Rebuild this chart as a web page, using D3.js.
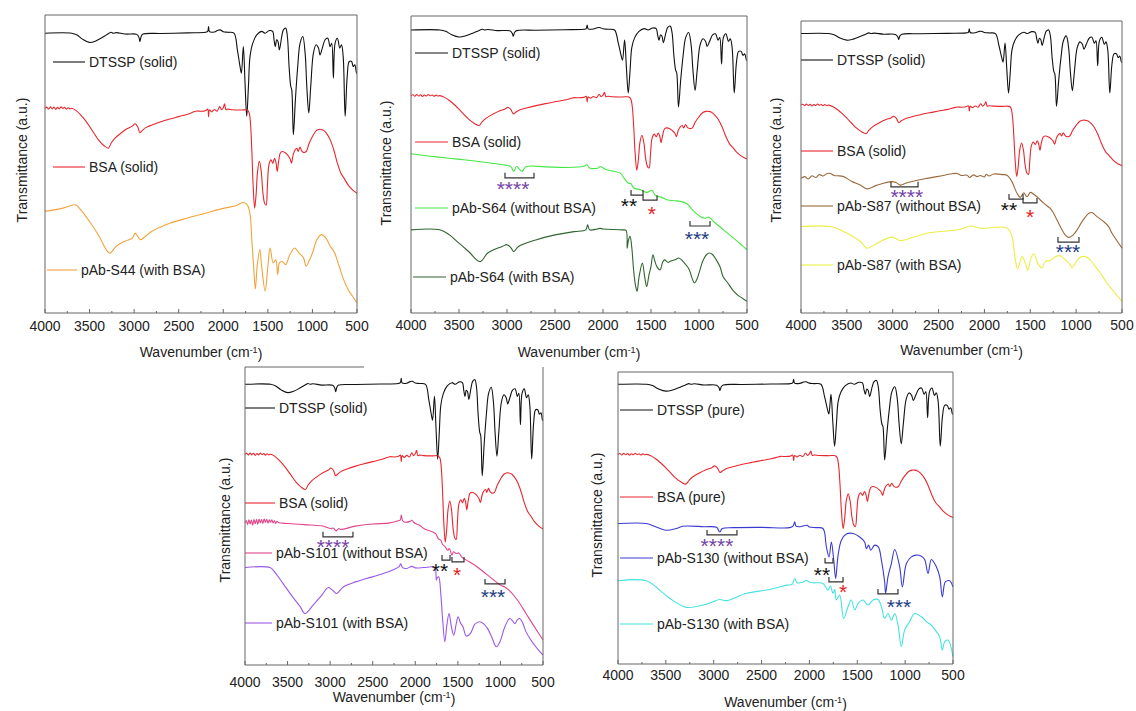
<!DOCTYPE html>
<html>
<head>
<meta charset="utf-8">
<script src="https://cdn.jsdelivr.net/npm/d3@7"></script>
<style>
  body { margin: 0; background: #fff; }
  text { font-family: "Liberation Sans", Arial, sans-serif; fill: #222; }
</style>
</head>
<body>
<div id="chart"></div>
<script>
// spectra: [wavenumber, relative transmittance], 0 = value at 4000 cm-1
const dtssp = [[4000,0],[3700,0],[3640,-0.6],[3580,-2],[3500,-3.1],[3430,-2.6],[3350,-1.3],[3290,-0.2],[3260,0.3],[3235,0],[3200,0.2],[3100,-0.3],[2970,-0.4],[2945,-1.5],[2935,-2.8],[2920,-1],[2900,-0.3],[2700,-0.1],[2400,0.1],[2200,0.3],[2175,0.6],[2165,2.2],[2155,0.5],[2100,0.4],[2060,1.0],[2035,1.1],[2000,0.5],[1950,0.3],[1880,0],[1842,-5.6],[1812,-11.2],[1797,-13.4],[1775,-4.5],[1756,-16.8],[1737,-27.9],[1718,-17.9],[1700,-7.8],[1670,-3.4],[1625,-0.6],[1569,0.6],[1532,0],[1483,0.9],[1446,0.6],[1431,-2.2],[1416,-4.5],[1401,-2.2],[1386,-2.8],[1371,-5.6],[1344,-1.1],[1326,1.1],[1300,1.7],[1281,-1.1],[1262,-11.2],[1243,-17.9],[1232,-19],[1214,-34.1],[1191,-22.3],[1165,-11.2],[1139,-3.4],[1108,-1.1],[1082,-6.7],[1063,-17.9],[1041,-26.8],[1019,-17.9],[989,-6.7],[959,-3.9],[932,-5],[915,-7.3],[889,-5],[858,-2.2],[828,-1.7],[802,-4.5],[784,-3.4],[765,-15.1],[746,-3.4],[720,-1.7],[693,-5],[674,-3.9],[655,-7.8],[633,-27.9],[610,-14.5],[587,-9.5],[561,-9.5],[542,-11.2],[524,-10.6],[505,-13.4],[500,-13.4]];
const bsa = [[4000,0],[3980,0.4],[3960,-0.3],[3940,0.5],[3920,-0.2],[3900,0.4],[3880,-0.4],[3860,0.3],[3840,-0.2],[3820,0.5],[3800,-0.1],[3780,0.3],[3760,-0.3],[3740,0.2],[3720,-0.2],[3700,0],[3650,-0.8],[3600,-2.2],[3550,-4],[3500,-6.1],[3450,-8.4],[3400,-10.6],[3340,-12.5],[3290,-13.4],[3260,-11.8],[3220,-10.2],[3150,-8.4],[3080,-6.9],[3020,-6],[2990,-5.2],[2960,-6.2],[2935,-8.2],[2910,-7.5],[2870,-6.5],[2800,-5.6],[2700,-4.5],[2600,-3.6],[2500,-2.8],[2400,-2],[2330,-1.2],[2300,-0.9],[2250,-1],[2200,-0.8],[2175,-0.3],[2165,-2.8],[2155,-0.5],[2130,-1.2],[2100,-0.4],[2070,-1],[2040,0.6],[2020,-0.5],[2000,0.2],[1985,1.5],[1970,-0.5],[1950,-0.3],[1900,-0.5],[1800,-0.6],[1730,-0.6],[1710,-1.5],[1695,-5],[1680,-14],[1665,-26],[1648,-33.5],[1632,-29],[1615,-21],[1595,-17.8],[1575,-21],[1555,-28.5],[1535,-32],[1520,-32.5],[1505,-26],[1488,-19],[1465,-17.3],[1445,-18.5],[1425,-16.8],[1410,-18],[1395,-21.2],[1380,-18],[1360,-15],[1340,-14.5],[1300,-15],[1270,-16],[1250,-17],[1235,-18.4],[1215,-15.5],[1195,-14],[1175,-13.4],[1160,-14.5],[1140,-13],[1120,-14.3],[1100,-14.8],[1070,-14.5],[1040,-12],[1000,-9.5],[960,-7.6],[930,-7.1],[900,-7.1],[870,-7.5],[840,-8.5],[800,-10.6],[760,-14],[720,-18.4],[680,-21.8],[640,-23.7],[600,-25.7],[550,-27.4],[500,-28.5]];
const s44 = [[4000,0],[3800,1.1],[3660,2.2],[3600,0.6],[3500,-3.4],[3400,-8],[3300,-13.4],[3270,-14],[3200,-11.7],[3100,-10],[3020,-9],[2990,-7.3],[2960,-8.4],[2930,-9.5],[2880,-8.5],[2800,-6.7],[2600,-4],[2400,-2.2],[2200,-0.6],[2000,1.0],[1850,2.0],[1775,3.0],[1730,2.2],[1700,-1],[1680,-9.5],[1660,-18.4],[1640,-26],[1620,-18.4],[1590,-12.8],[1570,-18.4],[1530,-26.8],[1500,-18.4],[1475,-12.3],[1440,-17.3],[1410,-16.2],[1390,-21.2],[1370,-17.3],[1340,-16.8],[1300,-17.9],[1260,-15],[1200,-12.3],[1150,-14],[1100,-15.6],[1070,-18.4],[1040,-16.8],[1000,-14],[950,-9.5],[900,-7.8],[850,-8.9],[800,-11.7],[780,-12.5],[750,-14],[700,-18.4],[650,-22.9],[600,-26.2],[550,-28.5],[500,-30.7]];
const s64wo = [[4000,0],[3800,-0.8],[3600,-1.5],[3450,-2],[3175,-3.1],[3040,-3.7],[2960,-4.3],[2930,-5.9],[2900,-4.3],[2845,-5.9],[2800,-4.3],[2600,-4.4],[2375,-4.6],[2200,-4.2],[2167,-3.7],[2140,-4.8],[2050,-4.8],[2030,-4.3],[1960,-5.4],[1890,-5.9],[1820,-6.5],[1770,-8.7],[1733,-9.9],[1710,-10],[1680,-11.5],[1611,-12.1],[1542,-13],[1490,-12.3],[1460,-13.8],[1438,-14.3],[1400,-14.5],[1333,-15.5],[1260,-15.8],[1195,-16],[1126,-16.8],[1056,-19.3],[987,-21.1],[935,-21.7],[900,-21.3],[848,-22.8],[744,-25.6],[640,-28.4],[500,-32.3]];
const s64w = [[4000,0],[3700,0],[3600,-1.7],[3500,-4.5],[3400,-7.3],[3280,-10.7],[3200,-7.8],[3050,-5.6],[3000,-5],[2960,-6],[2930,-7.3],[2880,-5.6],[2700,-3.4],[2500,-1.7],[2300,-0.6],[2180,0],[2160,1.7],[2140,0],[2060,0.3],[2030,0.5],[2000,0.3],[1800,0],[1760,-0.2],[1748,-6.2],[1735,-3.5],[1718,-2.2],[1700,-6],[1680,-14],[1660,-19],[1645,-20.7],[1625,-16],[1590,-11.2],[1565,-16],[1545,-19.1],[1520,-15],[1500,-12.3],[1480,-8.4],[1460,-10.5],[1440,-12.3],[1405,-13.5],[1380,-11],[1360,-10.1],[1320,-11],[1300,-10.6],[1250,-10.1],[1210,-9.5],[1170,-10.5],[1130,-12],[1100,-13.5],[1070,-16.5],[1048,-17.9],[1020,-16.5],[1000,-14.6],[960,-10.5],[920,-8.3],[890,-7.8],[860,-8.3],[820,-10.1],[780,-12.5],[750,-15.7],[700,-17.9],[650,-20.2],[600,-21.9],[550,-23],[500,-24.1]];
const s87wo = [[4000,0],[3960,0.6],[3920,-0.2],[3880,0.9],[3840,0.3],[3800,1.3],[3760,0.8],[3720,1.6],[3680,1.7],[3640,1.0],[3600,0.9],[3535,0.6],[3450,-1],[3353,-2.3],[3280,-3.6],[3171,-2.3],[3008,-1.1],[2960,-1.5],[2917,-2.3],[2844,-1.5],[2626,0],[2450,1.0],[2372,1.5],[2299,1.7],[2250,1.0],[2190,1.1],[2160,0.3],[2120,1.2],[2080,0.6],[2045,1.0],[2000,0.5],[1980,1.4],[1950,0.8],[1899,1.5],[1800,1.3],[1754,1.1],[1700,-1.1],[1645,-5.1],[1608,-6.5],[1572,-4.9],[1536,-6.3],[1499,-4.8],[1460,-5.5],[1427,-6.3],[1354,-8.5],[1282,-10.3],[1245,-12],[1173,-16.5],[1118,-19.4],[1082,-20.2],[1045,-19.7],[991,-17.7],[936,-14.8],[864,-12],[827,-11.7],[773,-13.1],[700,-14.8],[646,-16.5],[609,-18.8],[573,-20.5],[500,-23.9]];
const s87w = [[4000,0],[3680,0],[3535,-1.7],[3353,-5.1],[3280,-7.4],[3171,-5.7],[3008,-3.6],[2917,-4.8],[2772,-3.6],[2626,-2.3],[2263,-0.9],[2154,0.2],[2045,-0.6],[1754,-0.5],[1700,-3.4],[1663,-11.4],[1637,-14.6],[1590,-10.3],[1554,-12.5],[1528,-15],[1492,-10.8],[1463,-9.3],[1409,-13.1],[1372,-14.2],[1336,-12],[1282,-11.6],[1227,-10.3],[1173,-10],[1118,-11.4],[1064,-13.1],[1045,-14.2],[1009,-12.5],[955,-10.5],[900,-10.3],[846,-11.4],[791,-13.7],[737,-15.9],[664,-19.4],[591,-22.2],[500,-25.6]];
const s101wo = [[4000,0],[3985,0.8],[3970,-0.6],[3955,1.0],[3940,-0.4],[3925,0.9],[3910,-0.8],[3895,1.1],[3880,-0.3],[3865,1.2],[3850,-0.5],[3835,1.3],[3820,0],[3805,1.1],[3790,-0.2],[3775,1.4],[3760,0.1],[3745,1.2],[3730,-0.1],[3715,1.0],[3700,0.2],[3685,1.0],[3670,0],[3655,0.8],[3640,-0.2],[3625,0.5],[3600,0],[3500,-0.2],[3300,-0.6],[3100,-1],[3000,-1.9],[2960,-1.8],[2930,-2.7],[2900,-1.9],[2880,-2.2],[2700,-1.1],[2500,-0.4],[2300,0],[2200,0.7],[2175,1.0],[2165,2.6],[2150,0.8],[2130,0.3],[2060,0.5],[2040,0.9],[2020,0.2],[2000,-0.2],[1950,-0.8],[1900,-1.9],[1850,-2.5],[1800,-3],[1760,-3.6],[1730,-5.3],[1700,-5.8],[1680,-7.2],[1650,-8],[1620,-9.2],[1600,-8.6],[1570,-10.8],[1550,-9.7],[1520,-10.3],[1490,-10.1],[1450,-11.6],[1400,-12.5],[1300,-14.2],[1200,-16.4],[1100,-18.7],[1000,-20.9],[950,-21.5],[900,-22.6],[800,-25.9],[700,-30.4],[600,-34.9],[500,-39.3]];
const s101w = [[4000,0],[3707,0],[3650,-1.5],[3550,-5.5],[3450,-9.5],[3350,-13.2],[3296,-15.4],[3200,-12.6],[3100,-9.3],[3022,-6.7],[2964,-7.8],[2924,-8.7],[2846,-6.5],[2700,-4.8],[2572,-3.7],[2377,-2],[2260,-0.7],[2190,0.3],[2170,1.3],[2150,0],[2100,-0.3],[2040,0.4],[2000,-0.1],[1900,0],[1790,0.2],[1765,-0.3],[1752,-4.2],[1740,-3.3],[1725,-3.1],[1700,-9],[1680,-17],[1653,-24.9],[1630,-19.5],[1603,-15.4],[1575,-20],[1548,-22.7],[1520,-19],[1497,-16.5],[1470,-18.5],[1440,-19.9],[1400,-23],[1350,-22],[1300,-19],[1243,-18.2],[1200,-18.8],[1150,-20.5],[1100,-23.5],[1047,-26.6],[1000,-24.5],[950,-20],[891,-17.1],[860,-17.8],[832,-18.8],[800,-17.5],[773,-17.1],[740,-18.5],[700,-21.5],[650,-24],[600,-26],[550,-27.8],[500,-29.4]];
const s130wo = [[4000,0],[3704,0],[3600,-1.2],[3495,-2.3],[3400,-1.8],[3321,-0.9],[3100,-1.1],[2970,-1.3],[2938,-2.9],[2910,-1.7],[2800,-1.4],[2500,-1.3],[2206,-1.4],[2170,-0.8],[2154,0.6],[2140,-0.9],[2100,-1.1],[2025,-0.6],[2000,-1.2],[1928,-1.4],[1858,-1.7],[1823,-8],[1795,-11.4],[1771,-6.3],[1746,-12.5],[1726,-18.8],[1701,-11],[1666,-5.7],[1614,-3.6],[1544,-3.4],[1475,-4.6],[1423,-6.3],[1405,-8.6],[1381,-7.4],[1360,-9.1],[1318,-7.4],[1280,-8],[1248,-12.5],[1214,-20],[1204,-23.9],[1179,-18.2],[1144,-13.7],[1109,-8.9],[1057,-14.8],[1029,-21.7],[987,-13.7],[935,-11.4],[883,-10.8],[830,-11.2],[796,-12.3],[761,-17.1],[726,-12.3],[674,-14.8],[639,-18.2],[611,-25.1],[580,-20],[535,-19.6],[500,-21.7]];
const s130w = [[4000,0],[3704,0],[3565,-3.2],[3460,-6],[3286,-9.1],[3112,-8.3],[3007,-7.2],[2938,-6.4],[2868,-6.8],[2659,-4.3],[2415,-3],[2241,-1.5],[2180,-1.2],[2154,0.8],[2130,-0.7],[2102,-0.7],[2060,-0.3],[2032,0.2],[2000,-0.4],[1962,-0.7],[1858,-0.9],[1806,-3.2],[1781,-1.8],[1754,-4.3],[1736,-3],[1719,-6.6],[1684,-4.9],[1642,-12.9],[1597,-8.9],[1562,-6.6],[1527,-10],[1492,-7.8],[1440,-6.6],[1388,-8.3],[1336,-6.6],[1283,-6.4],[1248,-8.9],[1214,-12.9],[1179,-11.2],[1144,-13.5],[1109,-11.2],[1074,-15.2],[1040,-22.6],[1005,-16.9],[953,-14],[900,-11.2],[830,-12.3],[778,-14],[726,-15.2],[674,-17.4],[639,-19.2],[611,-23.7],[587,-20.9],[552,-20.3],[500,-26]];

// traces per panel, with stacking offset and scale (a.u.)
const panelSpectra = [
    [dtssp, bsa, s44],
    [dtssp, bsa, s64wo, s64w],
    [dtssp, bsa, s87wo, s87w],
    [dtssp, bsa, s101wo, s101w],
    [dtssp, bsa, s130wo, s130w]
];
const panelLabels = [
    ["DTSSP (solid)", "BSA (solid)", "pAb-S44 (with BSA)"],
    ["DTSSP (solid)", "BSA (solid)", "pAb-S64 (without BSA)", "pAb-S64 (with BSA)"],
    ["DTSSP (solid)", "BSA (solid)", "pAb-S87 (without BSA)", "pAb-S87 (with BSA)"],
    ["DTSSP (solid)", "BSA (solid)", "pAb-S101 (without BSA)", "pAb-S101 (with BSA)"],
    ["DTSSP (pure)", "BSA (pure)", "pAb-S130 (without BSA)", "pAb-S130 (with BSA)"]
];
const panelOffsets = [
    [93.9, 68.7, 34.1],
    [95.3, 73.2, 53.6, 28.0],
    [95.7, 71.2, 46.1, 29.6],
    [94.2, 70.7, 47.7, 32.7],
    [95.8, 71.8, 48.1, 28.5]
];
const panelScales = [
    [1, 1, 1],
    [0.76, 0.75, 1, 1],
    [0.73, 0.73, 1, 1],
    [0.9, 0.88, 1, 1],
    [0.76, 0.76, 1, 1]
];

// annotations: bracket ranges (cm-1), bracket level, star positions
const starMarks = ["****", "**", "*", "***"];
const bracketRanges = [
    [],
    [[3021,2719],[1708,1583],[1583,1437],[1094,885]],
    [[3019,2724],[1732,1579],[1579,1427],[1198,969]],
    [[3084,2732],[1686,1592],[1569,1428],[1181,946]],
    [[3070,2757],[1837,1754],[1796,1649],[1284,1075]]
];
const bracketLevels = [[], [45.5,39.7,38,29.3], [43.2,39,37.7,24.3], [43,35.2,34.6,27.2], [44.2,34.6,28.1,24]];
const starPositions = [
    [],
    [[2937,43.1],[1729,37.4],[1490,34.7],[1021,26.3]],
    [[2847,41.1],[1732,36.6],[1503,34.2],[1089,22.3]],
    [[2966,40.9],[1710,32.9],[1510,31.5],[1087,24.2]],
    [[2966,41.8],[1869,31.8],[1649,26],[1064,20.9]]
];
const xTicks = [4000, 3500, 3000, 2500, 2000, 1500, 1000, 500];

function chart() {
    const svg = d3.select("#chart").append("svg")
        .attr("width", 1136)
        .attr("height", 711);
    svg.append("rect").attr("width", "100%").attr("height", "100%").attr("fill", "#fff");

    const colors = [
        ["#111111", "#e8262e", "#f2a33c"],
        ["#111111", "#e8262e", "#44e844", "#2f652f"],
        ["#111111", "#e8262e", "#9a6a3c", "#eded45"],
        ["#111111", "#e8262e", "#e2468a", "#9a58e8"],
        ["#111111", "#e8262e", "#3a3ad2", "#45e2e2"]
    ];
    const starColors = ["#7443a6", "#111111", "#e82020", "#1d3b80"];

    //layout of each panel, pixels
    const panels = [
        {x0: 45, x1: 357, y0: 15, y1: 313, topEnd: 357, lx: [[53,85],[53,85],[47,77]], ly: [62,167,270], tickY: 326, titleY: 352, yt: [22,160]},
        {x0: 411, x1: 747, y0: 16, y1: 313, topEnd: 747, lx: [[415,448],[415,448],[415,448],[413,446]], ly: [53,142,208,277], tickY: 325, titleY: 352, yt: [386,163]},
        {x0: 801, x1: 1122, y0: 21, y1: 313, topEnd: 1122, lx: [[801,833],[801,833],[801,833],[801,833]], ly: [60,151,206,265], tickY: 325, titleY: 350, yt: [776,160]},
        {x0: 245, x1: 543, y0: 367, y1: 665, topEnd: 364, lx: [[245,275],[245,275],[245,272],[245,272]], ly: [408,503,553,623], tickY: 682, titleY: 697, yt: [225,520]},
        {x0: 618, x1: 953, y0: 372, y1: 664, topEnd: 953, lx: [[620,653],[620,653],[620,653],[620,653]], ly: [410,497,558,624], tickY: 675, titleY: 702, yt: [597,515]}
    ];

    panels.forEach(function(p, i) {
        const g = svg.append("g").attr("class", "panel");
        const x = d3.scaleLinear().domain([4000, 500]).range([p.x0, p.x1]);
        const y = d3.scaleLinear().domain([0, 100]).range([p.y1, p.y0]);

        //spectra
        panelSpectra[i].forEach(function(spec, k) {
            const off = panelOffsets[i][k];
            const sc = panelScales[i][k];
            const line = d3.line()
                .x(function(d) { return x(d[0]); })
                .y(function(d) { return y(off + sc * d[1]); })
                .curve(d3.curveCatmullRom.alpha(0.5));
            g.append("path")
                .datum(spec)
                .attr("d", line)
                .attr("fill", "none")
                .attr("stroke", colors[i][k])
                .attr("stroke-width", 1.1);

            //legend
            g.append("line")
                .attr("x1", p.lx[k][0]).attr("x2", p.lx[k][1])
                .attr("y1", p.ly[k]).attr("y2", p.ly[k])
                .attr("stroke", colors[i][k])
                .attr("stroke-width", 1.1);
            g.append("text")
                .attr("x", p.lx[k][1] + 4)
                .attr("y", p.ly[k])
                .attr("dy", "0.36em")
                .style("font-size", "14px")
                .text(panelLabels[i][k]);
        });

        //brackets and stars
        bracketRanges[i].forEach(function(r, k) {
            const by = y(bracketLevels[i][k]);
            const a = x(r[0]), b = x(r[1]);
            g.append("path")
                .attr("d", `M${a},${by - 5}L${a},${by}L${b},${by}L${b},${by - 5}`)
                .attr("fill", "none")
                .attr("stroke", "#333")
                .attr("stroke-width", 1.2);
            g.append("text")
                .attr("x", x(starPositions[i][k][0]))
                .attr("y", y(starPositions[i][k][1]) + 11)
                .attr("text-anchor", "middle")
                .style("font-size", "21px")
                .style("fill", starColors[k])
                .text(starMarks[k]);
        });

        //frame
        const frame = "#666";
        g.append("line").attr("x1", p.x0).attr("x2", p.x1).attr("y1", p.y1).attr("y2", p.y1).attr("stroke", frame);
        g.append("line").attr("x1", p.x0).attr("x2", p.x0).attr("y1", p.y0).attr("y2", p.y1).attr("stroke", frame);
        g.append("line").attr("x1", p.x1).attr("x2", p.x1).attr("y1", p.y0).attr("y2", p.y1).attr("stroke", frame);
        g.append("line").attr("x1", p.x0).attr("x2", p.topEnd).attr("y1", p.y0).attr("y2", p.y0).attr("stroke", frame);

        //ticks, inward
        const minor = d3.range(4000, 499, -250);
        g.selectAll("line.tick")
            .data(minor)
            .enter()
            .append("line")
            .attr("class", "tick")
            .attr("x1", function(d) { return x(d); })
            .attr("x2", function(d) { return x(d); })
            .attr("y1", p.y1)
            .attr("y2", function(d) { return p.y1 - (d % 500 === 0 ? 4 : 2); })
            .attr("stroke", frame);
        g.selectAll("text.tl")
            .data(xTicks)
            .enter()
            .append("text")
            .attr("class", "tl")
            .attr("x", function(d) { return x(d); })
            .attr("y", p.tickY)
            .attr("dy", "0.36em")
            .attr("text-anchor", "middle")
            .style("font-size", "14px")
            .text(function(d) { return d; });

        //axis titles
        const t = g.append("text")
            .attr("x", (p.x0 + p.x1) / 2)
            .attr("y", p.titleY)
            .attr("dy", "0.36em")
            .attr("text-anchor", "middle")
            .style("font-size", "14px");
        t.append("tspan").text("Wavenumber (cm");
        t.append("tspan").attr("dy", "-0.45em").style("font-size", "9px").text("-1");
        t.append("tspan").attr("dy", "0.45em").text(")");

        g.append("text")
            .attr("transform", `translate(${p.yt[0]},${p.yt[1]}) rotate(-90)`)
            .attr("dy", "0.36em")
            .attr("text-anchor", "middle")
            .style("font-size", "14px")
            .text("Transmittance (a.u.)");
    });
}

chart();
</script>
</body>
</html>
